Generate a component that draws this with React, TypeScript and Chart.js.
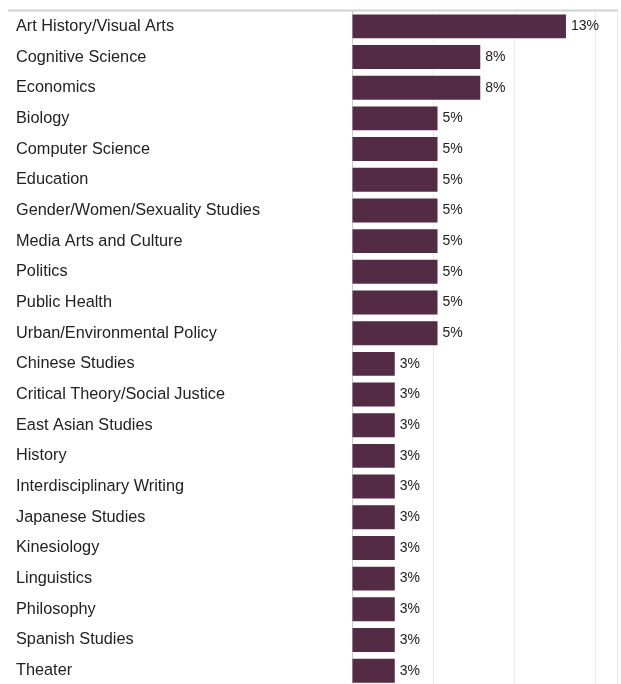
import React, { useEffect, useRef } from "react";
import { Chart, registerables } from "chart.js";

Chart.register(...registerables);

const categories = [
  "Art History/Visual Arts",
  "Cognitive Science",
  "Economics",
  "Biology",
  "Computer Science",
  "Education",
  "Gender/Women/Sexuality Studies",
  "Media Arts and Culture",
  "Politics",
  "Public Health",
  "Urban/Environmental Policy",
  "Chinese Studies",
  "Critical Theory/Social Justice",
  "East Asian Studies",
  "History",
  "Interdisciplinary Writing",
  "Japanese Studies",
  "Kinesiology",
  "Linguistics",
  "Philosophy",
  "Spanish Studies",
  "Theater",
];

const percentValues = [
  13.16, 7.89, 7.89, 5.26, 5.26, 5.26, 5.26, 5.26, 5.26, 5.26, 5.26, 2.63,
  2.63, 2.63, 2.63, 2.63, 2.63, 2.63, 2.63, 2.63, 2.63, 2.63,
];

const valueLabels = [
  "13%", "8%", "8%", "5%", "5%", "5%", "5%", "5%", "5%", "5%", "5%", "3%",
  "3%", "3%", "3%", "3%", "3%", "3%", "3%", "3%", "3%", "3%",
];

const gridTicks = [0, 5, 10, 15, 16.3];

const FONT = "'Liberation Sans', Arimo, Arial, sans-serif";

const valueLabelPlugin = {
  id: "valueLabels",
  afterDatasetsDraw(chart: any) {
    const ctx = chart.ctx;
    const meta = chart.getDatasetMeta(0);
    ctx.save();
    ctx.font = `14px ${FONT}`;
    ctx.fillStyle = "#222222";
    ctx.textAlign = "left";
    ctx.textBaseline = "middle";
    meta.data.forEach((bar: any, i: number) => {
      ctx.fillText(valueLabels[i], bar.x + 5, bar.y);
    });
    ctx.restore();
  },
};

const topLinePlugin = {
  id: "topLine",
  beforeDraw(chart: any) {
    const ctx = chart.ctx;
    const area = chart.chartArea;
    ctx.save();
    ctx.strokeStyle = "#d2d2d2";
    ctx.lineWidth = 2;
    ctx.beginPath();
    ctx.moveTo(8, area.top - 0.5);
    ctx.lineTo(area.right + 1, area.top - 0.5);
    ctx.stroke();
    ctx.restore();
  },
};

export default function App() {
  const canvasRef = useRef<HTMLCanvasElement | null>(null);

  useEffect(() => {
    if (!canvasRef.current) return;
    const chart = new Chart(canvasRef.current, {
      type: "bar",
      data: {
        labels: categories,
        datasets: [
          {
            data: percentValues,
            backgroundColor: "#532b45",
            borderWidth: 0,
            categoryPercentage: 1,
            barPercentage: 0.78,
          },
        ],
      },
      plugins: [valueLabelPlugin, topLinePlugin],
      options: {
        indexAxis: "y",
        animation: false,
        responsive: false,
        maintainAspectRatio: false,
        layout: { padding: { left: 16, top: 11, right: 4, bottom: 14 } },
        plugins: {
          legend: { display: false },
          tooltip: { enabled: false },
        },
        scales: {
          x: {
            min: 0,
            max: 16.3,
            ticks: { display: false, stepSize: 5 },
            afterBuildTicks(scale: any) {
              scale.ticks = gridTicks.map((v) => ({ value: v }));
            },
            grid: { color: "#ebebeb", drawTicks: false, lineWidth: 1 },
            border: { display: false },
          },
          y: {
            ticks: {
              crossAlign: "far",
              color: "#222222",
              font: { family: FONT, size: 16.3 },
              padding: 0,
            },
            grid: { display: false, drawTicks: false },
            border: { display: true, color: "#cccccc", width: 1 },
            afterFit(scale: any) {
              scale.width = 336;
            },
          },
        },
      },
    });
    return () => chart.destroy();
  }, []);

  return (
    <div style={{ position: "fixed", left: 0, top: 0, width: 621, height: 700 }}>
      <canvas ref={canvasRef} width={621} height={700} style={{ width: 621, height: 700, display: "block" }} />
    </div>
  );
}
